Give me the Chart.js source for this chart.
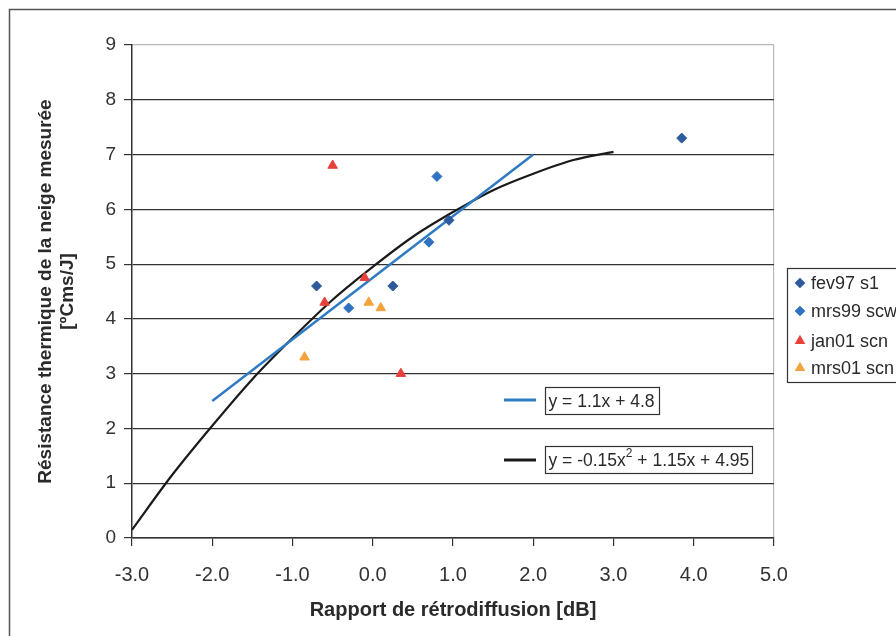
<!DOCTYPE html>
<html>
<head>
<meta charset="utf-8">
<script src="https://cdn.jsdelivr.net/npm/chart.js@4"></script>
<style>
  html, body { margin: 0; padding: 0; background: #fff; }
  #wrap { width: 896px; height: 636px; }
</style>
</head>
<body>
<div id="wrap"><canvas id="chart" width="896" height="636"></canvas></div>
<script>
// values
const fev97X = [-0.7, 0.25, 0.95, 3.85];
const fev97Y = [4.6, 4.6, 5.8, 7.3];
const mrs99X = [-0.3, 0.7, 0.8];
const mrs99Y = [4.2, 5.4, 6.6];
const jan01X = [-0.6, -0.5, -0.1, 0.35];
const jan01Y = [4.3, 6.8, 4.75, 3.0];
const mrs01X = [-0.85, -0.05, 0.1];
const mrs01Y = [3.3, 4.3, 4.2];

// trend lines as drawn
const linFitX = [-2, 2];
const linFitY = [2.5, 7.0];
const polyFitX = [-3, -2.5, -2, -1.5, -1, -0.5, 0, 0.5, 1, 1.5, 2, 2.5, 3];
const polyFitY = [0.15, 1.15, 2.05, 2.9, 3.65, 4.35, 4.95, 5.5, 5.95, 6.35, 6.65, 6.9, 7.05];

const xTicks = [-3, -2, -1, 0, 1, 2, 3, 4, 5];
const yTicks = [0, 1, 2, 3, 4, 5, 6, 7, 8, 9];

const seriesNames = ['fev97 s1', 'mrs99 scw', 'jan01 scn', 'mrs01 scn'];
const fitLabels = [['y = 1.1x + 4.8'], ['y = -0.15x', '2', ' + 1.15x + 4.95']];

const FONT = '"Liberation Sans", Arial, sans-serif';
const TXT = '#2a2a2a';

const pts = (xs, ys) => xs.map((x, i) => ({ x, y: ys[i] }));

const markerStyles = [
  { pointStyle: 'rectRot', color: '#2d5a9c', r: 5 },
  { pointStyle: 'rectRot', color: '#2f72c2', r: 5 },
  { pointStyle: 'triangle', color: '#e8413b', r: 5.5 },
  { pointStyle: 'triangle', color: '#f4a33c', r: 5.5 }
];

function markerSet(label, data, s) {
  return {
    label, data,
    pointStyle: s.pointStyle,
    pointRadius: s.r,
    pointHoverRadius: s.r,
    backgroundColor: s.color,
    borderColor: s.color,
    borderWidth: 1,
    showLine: false
  };
}

// frame, right legend and trend-line legend drawn by hand
const decor = {
  id: 'decor',
  beforeDraw(chart) {
    const ctx = chart.ctx;
    ctx.save();
    ctx.fillStyle = '#fff';
    ctx.fillRect(0, 0, chart.width, chart.height);
    ctx.strokeStyle = '#555';
    ctx.lineWidth = 1.5;
    ctx.strokeRect(9.5, 9.5, 950, 700);
    ctx.restore();
  },
  afterDraw(chart) {
    const ctx = chart.ctx;
    ctx.save();
    // series legend
    ctx.strokeStyle = '#333';
    ctx.lineWidth = 1.2;
    ctx.strokeRect(787.5, 268.5, 200, 114);
    ctx.font = '18px ' + FONT;
    ctx.textBaseline = 'middle';
    const rows = [283, 311, 341, 368];
    seriesNames.forEach((name, i) => {
      const s = markerStyles[i];
      ctx.fillStyle = s.color;
      ctx.strokeStyle = s.color;
      Chart.helpers.drawPoint(ctx, { pointStyle: s.pointStyle, radius: s.pointStyle === 'triangle' ? 5 : 4.5, borderWidth: 1 }, 800, rows[i]);
      ctx.fillStyle = TXT;
      ctx.fillText(name, 811, rows[i] + 1);
    });
    // trend-line legend
    const fits = [
      { color: '#2e7bc4', y: 400, box: [545.5, 387.5, 114, 27] },
      { color: '#1a1a1a', y: 460, box: [545.5, 446.5, 207, 27] }
    ];
    fits.forEach((f, i) => {
      ctx.strokeStyle = f.color;
      ctx.lineWidth = 3;
      ctx.beginPath();
      ctx.moveTo(504, f.y);
      ctx.lineTo(536, f.y);
      ctx.stroke();
      const [bx, by, bw, bh] = f.box;
      ctx.fillStyle = '#fff';
      ctx.fillRect(bx, by, bw, bh);
      ctx.strokeStyle = '#333';
      ctx.lineWidth = 1.2;
      ctx.strokeRect(bx, by, bw, bh);
      ctx.fillStyle = TXT;
      const ty = by + bh / 2 + 1;
      let tx = bx + 3;
      fitLabels[i].forEach((part, k) => {
        if (k === 1) {
          ctx.font = '12px ' + FONT;
          ctx.fillText(part, tx, ty - 7);
        } else {
          ctx.font = '17.5px ' + FONT;
          ctx.fillText(part, tx, ty);
        }
        tx += ctx.measureText(part).width;
      });
    });
    ctx.restore();
  }
};

new Chart(document.getElementById('chart'), {
  type: 'scatter',
  data: {
    datasets: [
      {
        label: 'poly', data: pts(polyFitX, polyFitY), showLine: true,
        borderColor: '#1a1a1a', borderWidth: 2.2, pointRadius: 0,
        cubicInterpolationMode: 'monotone', order: 5
      },
      {
        label: 'lin', data: pts(linFitX, linFitY), showLine: true,
        borderColor: '#2e7bc4', borderWidth: 2.5, pointRadius: 0, order: 4
      },
      markerSet(seriesNames[0], pts(fev97X, fev97Y), markerStyles[0]),
      markerSet(seriesNames[1], pts(mrs99X, mrs99Y), markerStyles[1]),
      markerSet(seriesNames[2], pts(jan01X, jan01Y), markerStyles[2]),
      markerSet(seriesNames[3], pts(mrs01X, mrs01Y), markerStyles[3])
    ]
  },
  options: {
    responsive: false,
    animation: false,
    layout: { padding: { top: 45, right: 122, left: 0, bottom: 0 } },
    plugins: { legend: { display: false }, tooltip: { enabled: false } },
    scales: {
      x: {
        type: 'linear', min: -3, max: 5,
        afterBuildTicks: s => { s.ticks = xTicks.map(v => ({ value: v })); },
        afterFit: s => { s.height = 98; },
        grid: {
          drawOnChartArea: true,
          color: c => (c.tick && c.tick.value === 5 ? '#b8b8b8' : 'rgba(0,0,0,0)'),
          tickColor: '#333', tickLength: 8, lineWidth: 1.2
        },
        border: { color: '#333', width: 1.5 },
        ticks: {
          color: '#333', padding: 17,
          font: { family: FONT, size: 20 },
          callback: v => v.toFixed(1)
        },
        title: {
          display: true, text: 'Rapport de rétrodiffusion [dB]', color: TXT,
          font: { family: FONT, size: 20, weight: 'bold', lineHeight: 1.2 },
          padding: { top: 0, bottom: 14 }
        }
      },
      y: {
        type: 'linear', min: 0, max: 9,
        afterBuildTicks: s => { s.ticks = yTicks.map(v => ({ value: v })); },
        afterFit: s => { s.width = 132; },
        grid: {
          color: c => (c.tick && c.tick.value === 9 ? '#b8b8b8' : '#333'),
          tickColor: '#333', tickLength: 8, lineWidth: 1.2
        },
        border: { color: '#333', width: 1.5 },
        ticks: {
          color: '#333', padding: 8,
          font: { family: FONT, size: 19 }
        },
        title: {
          display: true,
          text: ['Résistance thermique de la neige mesurée', '[ºCms/J]'],
          color: TXT,
          font: { family: FONT, size: 19, weight: 'bold', lineHeight: 1.2 },
          padding: { top: 34, bottom: 0 }
        }
      }
    }
  },
  plugins: [decor]
});
</script>
</body>
</html>
